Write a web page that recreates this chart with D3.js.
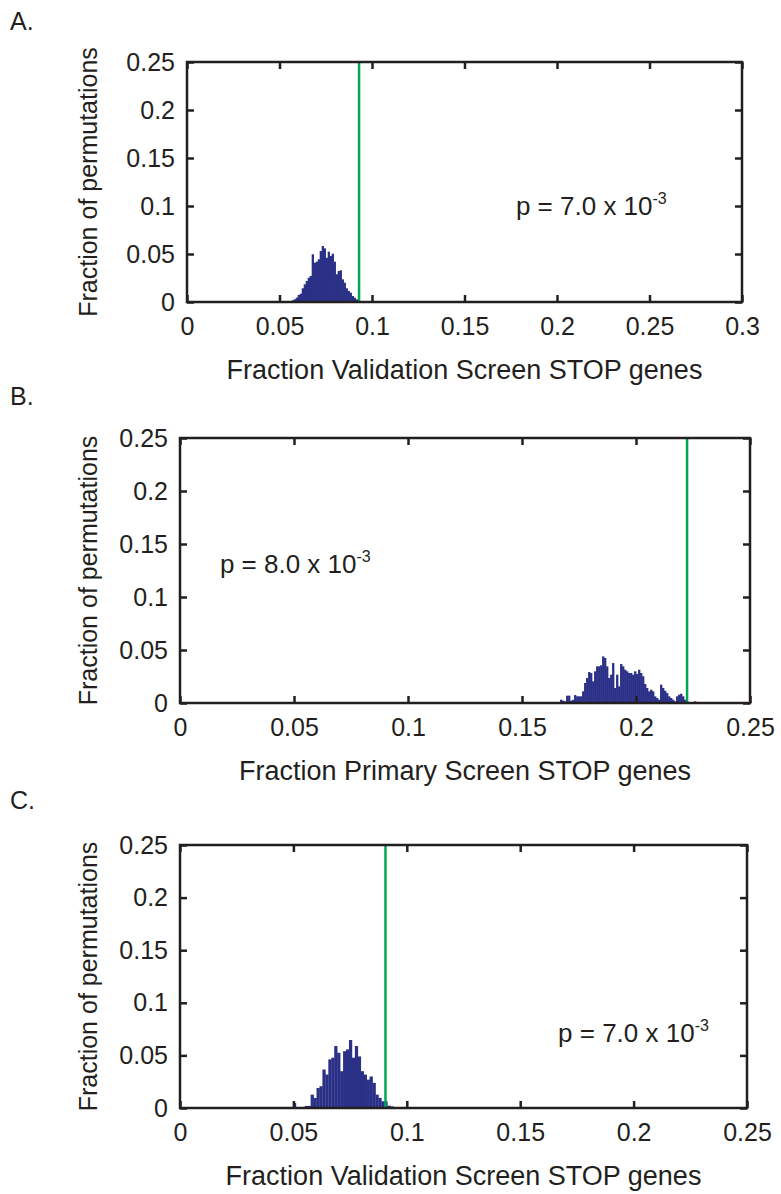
<!DOCTYPE html>
<html>
<head>
<meta charset="utf-8">
<script src="https://cdn.jsdelivr.net/npm/d3@7"></script>
<style>
body { margin: 0; background: #fff; }
svg text { font-family: "Liberation Sans", Arial, sans-serif; fill: #231f20; }
</style>
</head>
<body>
<svg id="chart" width="781" height="1194"></svg>
<script>
// permutation histograms
let y_ticks = [0, 0.05, 0.1, 0.15, 0.2, 0.25];
let y_tick_labels = ["0", "0.05", "0.1", "0.15", "0.2", "0.25"];
let x_ticks_a = [0, 0.05, 0.1, 0.15, 0.2, 0.25, 0.3];
let x_tick_labels_a = ["0", "0.05", "0.1", "0.15", "0.2", "0.25", "0.3"];
let x_ticks_bc = [0, 0.05, 0.1, 0.15, 0.2, 0.25];
let x_tick_labels_bc = ["0", "0.05", "0.1", "0.15", "0.2", "0.25"];

let a_bin_start = 0.0566, a_bin_width = 0.00108;
let a_counts = [0.0018, 0.0028, 0.0045, 0.0073, 0.0086, 0.0143, 0.0184, 0.0219, 0.0253, 0.0271,
    0.0497, 0.0409, 0.0420, 0.0445, 0.0531, 0.0583, 0.0559, 0.0461, 0.0524, 0.0479,
    0.0503, 0.0420, 0.0289, 0.0323, 0.0330, 0.0236, 0.0201, 0.0143, 0.0115, 0.0097,
    0.0063, 0.0045, 0.0028, 0.0018, 0.0010];
let a_observed = 0.093;

let b_bin_start = 0.1667, b_bin_width = 0.000877;
let b_counts = [0.0031, 0.0022, 0.0016, 0.0069, 0.0069, 0.0022, 0.0031, 0.0075, 0.0063, 0.0063,
    0.0063, 0.0110, 0.0189, 0.0236, 0.0292, 0.0283, 0.0205, 0.0299, 0.0346, 0.0346,
    0.0356, 0.0440, 0.0425, 0.0346, 0.0236, 0.0267, 0.0377, 0.0142, 0.0267, 0.0157,
    0.0368, 0.0346, 0.0314, 0.0299, 0.0283, 0.0283, 0.0267, 0.0299, 0.0274, 0.0314,
    0.0283, 0.0252, 0.0179, 0.0142, 0.0110, 0.0125, 0.0110, 0.0063, 0.0047, 0.0031,
    0.0173, 0.0142, 0.0116, 0.0094, 0.0063, 0.0047, 0.0031, 0.0016, 0.0063, 0.0078,
    0.0088, 0.0063, 0.0031, 0.0016, 0.0009, 0.0009, 0.0007, 0.0016, 0.0007];
let b_observed = 0.2224;

let c_bin_start = 0.0498, c_bin_width = 0.0013;
let c_counts = [0.0048, 0, 0, 0, 0.0020, 0.0020, 0.0127, 0.0096, 0.0190, 0.0207,
    0.0366, 0.0318, 0.0462, 0.0478, 0.0589, 0.0525, 0.0350, 0.0540, 0.0557, 0.0646,
    0.0478, 0.0589, 0.0490, 0.0350, 0.0318, 0.0270, 0.0300, 0.0239, 0.0127, 0.0096,
    0.0064, 0.0064, 0.0022, 0.0016];
let c_observed = 0.0906;

let navy = "#2b3087";
let green = "#00a651";

let panels = [
    {letter: "A.", letter_y: 30, left: 187, right: 742, top: 62, bottom: 302, x_max: 0.3,
     x_ticks: x_ticks_a, x_labels: x_tick_labels_a, xlabel: "Fraction Validation Screen STOP genes",
     bin_start: a_bin_start, bin_width: a_bin_width, counts: a_counts, observed: a_observed,
     p_base: "p = 7.0 x 10", p_exp: "-3", p_x: 0.1778, p_y: 0.0906},
    {letter: "B.", letter_y: 405, left: 180, right: 750, top: 438, bottom: 703, x_max: 0.25,
     x_ticks: x_ticks_bc, x_labels: x_tick_labels_bc, xlabel: "Fraction Primary Screen STOP genes",
     bin_start: b_bin_start, bin_width: b_bin_width, counts: b_counts, observed: b_observed,
     p_base: "p = 8.0 x 10", p_exp: "-3", p_x: 0.0175, p_y: 0.1225},
    {letter: "C.", letter_y: 809, left: 180, right: 747, top: 845, bottom: 1108, x_max: 0.25,
     x_ticks: x_ticks_bc, x_labels: x_tick_labels_bc, xlabel: "Fraction Validation Screen STOP genes",
     bin_start: c_bin_start, bin_width: c_bin_width, counts: c_counts, observed: c_observed,
     p_base: "p = 7.0 x 10", p_exp: "-3", p_x: 0.1667, p_y: 0.063}
];

function render_panel(svg, p) {
    let x = d3.scaleLinear().domain([0, p.x_max]).range([p.left, p.right]);
    let y = d3.scaleLinear().domain([0, 0.25]).range([p.bottom, p.top]);
    let g = svg.append("g");

    g.append("text")
        .attr("x", 10).attr("y", p.letter_y)
        .attr("font-size", 25)
        .text(p.letter);

    // histogram
    let bw = x(p.bin_width) - x(0);
    g.append("g").selectAll("rect")
      .data(p.counts)
      .enter().append("rect")
        .attr("x", (d, i) => x(p.bin_start + i * p.bin_width))
        .attr("width", bw + 0.3)
        .attr("y", d => y(d))
        .attr("height", d => y(0) - y(d))
        .attr("fill", navy);

    // observed value
    g.append("line")
        .attr("x1", x(p.observed)).attr("x2", x(p.observed))
        .attr("y1", y(0)).attr("y2", y(0.25))
        .attr("stroke", green).attr("stroke-width", 2.5);

    let fmt_x = (d) => p.x_labels[p.x_ticks.indexOf(d)];
    let fmt_y = (d) => y_tick_labels[y_ticks.indexOf(d)];

    let bottom_axis = g.append("g")
        .attr("transform", "translate(0," + p.bottom + ")")
        .call(d3.axisBottom(x).tickValues(p.x_ticks).tickFormat(fmt_x)
            .tickSizeInner(-7).tickSizeOuter(0).tickPadding(15));
    let top_axis = g.append("g")
        .attr("transform", "translate(0," + p.top + ")")
        .call(d3.axisTop(x).tickValues(p.x_ticks).tickFormat("")
            .tickSizeInner(-7).tickSizeOuter(0));
    let left_axis = g.append("g")
        .attr("transform", "translate(" + p.left + ",0)")
        .call(d3.axisLeft(y).tickValues(y_ticks).tickFormat(fmt_y)
            .tickSizeInner(-7).tickSizeOuter(0).tickPadding(12));
    let right_axis = g.append("g")
        .attr("transform", "translate(" + p.right + ",0)")
        .call(d3.axisRight(y).tickValues(y_ticks).tickFormat("")
            .tickSizeInner(-7).tickSizeOuter(0));

    [bottom_axis, top_axis, left_axis, right_axis].forEach(a => {
        a.select(".domain").remove();
        a.selectAll(".tick line").attr("stroke", "#231f20").attr("stroke-width", 2.5);
        a.selectAll(".tick text").attr("font-size", 25)
            .attr("font-family", "'Liberation Sans', Arial, sans-serif").attr("fill", "#231f20");
    });

    g.append("rect")
        .attr("x", p.left).attr("y", p.top)
        .attr("width", p.right - p.left).attr("height", p.bottom - p.top)
        .attr("fill", "none").attr("stroke", "#231f20").attr("stroke-width", 2.5);

    // axis titles
    g.append("text")
        .attr("x", (p.left + p.right) / 2).attr("y", p.bottom + 77)
        .attr("text-anchor", "middle").attr("font-size", 27)
        .text(p.xlabel);
    g.append("text")
        .attr("transform", "translate(97," + (p.top + p.bottom) / 2 + ") rotate(-90)")
        .attr("text-anchor", "middle").attr("font-size", 25)
        .text("Fraction of permutations");

    // p value
    let pt = g.append("text")
        .attr("x", x(p.p_x)).attr("y", y(p.p_y))
        .attr("font-size", 26);
    pt.append("tspan").text(p.p_base);
    pt.append("tspan").attr("dy", -11).attr("font-size", 16).text(p.p_exp);
}

let svg = d3.select("#chart");
panels.forEach(p => render_panel(svg, p));
</script>
</body>
</html>
